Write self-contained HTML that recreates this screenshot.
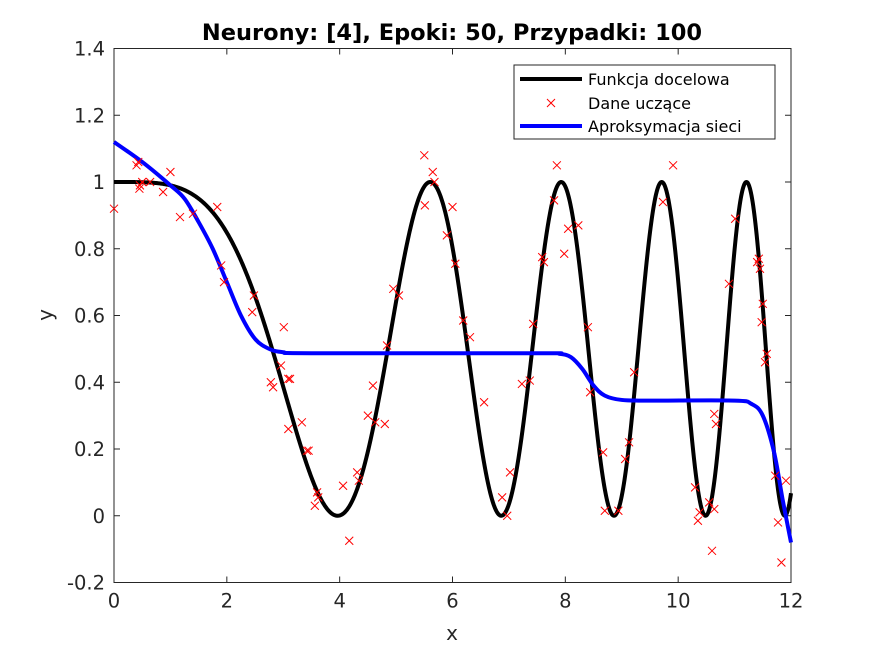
<!DOCTYPE html>
<html><head><meta charset="utf-8"><style>
html,body{margin:0;padding:0;background:#fff;}
svg{display:block;font-family:"DejaVu Sans","Liberation Sans",sans-serif;}
</style></head><body>
<svg id="chart" width="874" height="655" viewBox="0 0 874 655" xmlns="http://www.w3.org/2000/svg">
<rect width="874" height="655" fill="#fff"/>
<text x="452" y="40" text-anchor="middle" font-size="22.5" font-weight="bold" fill="#000">Neurony: [4], Epoki: 50, Przypadki: 100</text>
<g id="plot"></g>
<text x="452" y="640" text-anchor="middle" font-size="20" fill="#262626">x</text>
<text x="52" y="315" text-anchor="middle" font-size="20" fill="#262626" transform="rotate(-90 52 315)">y</text>
<g>
<rect x="514" y="65" width="261" height="74" fill="#fff" stroke="#262626" stroke-width="1"/>
<line x1="520" y1="79" x2="582" y2="79" stroke="#000" stroke-width="4"/>
<text x="588" y="85" font-size="16" fill="#000">Funkcja docelowa</text>
<path d="M547,99 L555,107 M555,99 L547,107" stroke="#f00" stroke-width="1"/>
<text x="588" y="109" font-size="16" fill="#000">Dane uczące</text>
<line x1="520" y1="126" x2="582" y2="126" stroke="#00f" stroke-width="4"/>
<text x="588" y="132" font-size="16" fill="#000">Aproksymacja sieci</text>
</g>
</svg>
<script>
const xTicks=[0,2,4,6,8,10,12];
const yTicks=[-0.2,0,0.2,0.4,0.6,0.8,1,1.2,1.4];
const yTickLabels=["-0.2","0","0.2","0.4","0.6","0.8","1","1.2","1.4"];
const approxX=[0,0.5,1,1.25,1.5,1.75,2,2.25,2.5,2.75,3,3.5,7.5,7.9,8.1,8.3,8.5,8.7,9,9.5,11,11.3,11.5,11.7,11.85,12];
const approxY=[1.12,1.06,0.99,0.95,0.88,0.80,0.70,0.60,0.53,0.50,0.49,0.487,0.487,0.485,0.475,0.44,0.39,0.36,0.347,0.345,0.345,0.335,0.30,0.19,0.05,-0.08];
const dataX=[0,0.4,0.43,0.46,0.5,0.45,0.64,0.87,1.0,1.17,1.4,1.83,1.9,1.95,2.48,2.45,2.78,2.82,3.01,2.96,3.09,3.12,3.09,3.33,3.42,3.45,3.6,3.56,3.62,4.06,4.17,4.31,4.34,4.5,4.59,4.63,4.8,4.84,4.95,5.05,5.5,5.51,5.65,5.68,5.9,6.0,6.05,6.19,6.31,6.56,6.88,6.97,7.02,7.23,7.37,7.43,7.59,7.62,7.8,7.85,7.98,8.05,8.23,8.4,8.44,8.67,8.7,8.94,9.06,9.13,9.22,9.73,9.91,10.3,10.35,10.38,10.55,10.6,10.64,10.67,10.64,10.9,11.01,11.4,11.43,11.45,11.5,11.48,11.54,11.57,11.72,11.77,11.83,11.91];
const dataY=[0.92,1.05,1.06,0.99,1.0,0.98,1.0,0.97,1.03,0.895,0.905,0.925,0.75,0.70,0.66,0.61,0.40,0.385,0.565,0.45,0.41,0.41,0.26,0.28,0.195,0.195,0.07,0.03,0.055,0.09,-0.075,0.13,0.105,0.30,0.39,0.28,0.275,0.51,0.68,0.66,1.08,0.93,1.03,1.0,0.84,0.925,0.755,0.585,0.535,0.34,0.055,0.0,0.13,0.395,0.405,0.575,0.775,0.76,0.945,1.05,0.785,0.86,0.87,0.565,0.37,0.19,0.015,0.015,0.17,0.22,0.43,0.94,1.05,0.085,-0.015,0.01,0.04,-0.105,0.305,0.275,0.02,0.695,0.89,0.76,0.77,0.74,0.635,0.58,0.46,0.485,0.12,-0.02,-0.14,0.105];
function targetFn(x){const c=Math.cos(x*x/10);return c*c;}
const X0=114,X1=791,Y0=582.5,Y1=48.5;
const sx=v=>X0+(v-0)/(12-0)*(X1-X0);
const sy=v=>Y0-(v+0.2)/(1.6)*(Y0-Y1);
const NS="http://www.w3.org/2000/svg";
const g=document.getElementById('plot');
function mk(t,a){const e=document.createElementNS(NS,t);for(const k in a)e.setAttribute(k,a[k]);g.appendChild(e);return e;}
let e=mk('rect',{x:X0,y:Y1,width:X1-X0,height:Y0-Y1,fill:'#fff',stroke:'#262626','stroke-width':1});


xTicks.forEach(t=>{
  mk('line',{x1:sx(t),y1:Y0,x2:sx(t),y2:Y0-6,stroke:'#262626'});
  mk('line',{x1:sx(t),y1:Y1,x2:sx(t),y2:Y1+6,stroke:'#262626'});
  const l=mk('text',{x:sx(t),y:Y0+25,'text-anchor':'middle','font-size':19.5,fill:'#262626'});
  l.textContent=String(t);
  
  
});
yTicks.forEach((t,i)=>{
  mk('line',{x1:X0,y1:sy(t),x2:X0+6,y2:sy(t),stroke:'#262626'});
  mk('line',{x1:X1,y1:sy(t),x2:X1-6,y2:sy(t),stroke:'#262626'});
  const l=mk('text',{x:X0-9,y:sy(t)+7,'text-anchor':'end','font-size':19.5,fill:'#262626'});
  l.textContent=yTickLabels[i];
  
  
});
let d='';for(let i=0;i<=1200;i++){const x=i/100;d+=(i?'L':'M')+sx(x).toFixed(2)+','+sy(targetFn(x)).toFixed(2);}
e=mk('path',{d:d,fill:'none',stroke:'#000','stroke-width':4,'stroke-linejoin':'round'});


let pts=approxX.map((x,i)=>[sx(x),sy(approxY[i])]);
d='M'+pts[0][0]+','+pts[0][1];
for(let i=0;i<pts.length-1;i++){const p0=pts[Math.max(0,i-1)],p1=pts[i],p2=pts[i+1],p3=pts[Math.min(pts.length-1,i+2)];
 const c1=[p1[0]+(p2[0]-p0[0])/6,p1[1]+(p2[1]-p0[1])/6],c2=[p2[0]-(p3[0]-p1[0])/6,p2[1]-(p3[1]-p1[1])/6];
 d+=`C${c1[0]},${c1[1]} ${c2[0]},${c2[1]} ${p2[0]},${p2[1]}`;}
e=mk('path',{d:d,fill:'none',stroke:'#00f','stroke-width':4,'stroke-linejoin':'round'});


dataX.forEach((x,i)=>{const cx=sx(x),cy=sy(dataY[i]);
  const m=mk('path',{d:`M${cx-4},${cy-4}L${cx+4},${cy+4}M${cx+4},${cy-4}L${cx-4},${cy+4}`,stroke:'#f00','stroke-width':1});
  
  
});
</script>
</body></html>
